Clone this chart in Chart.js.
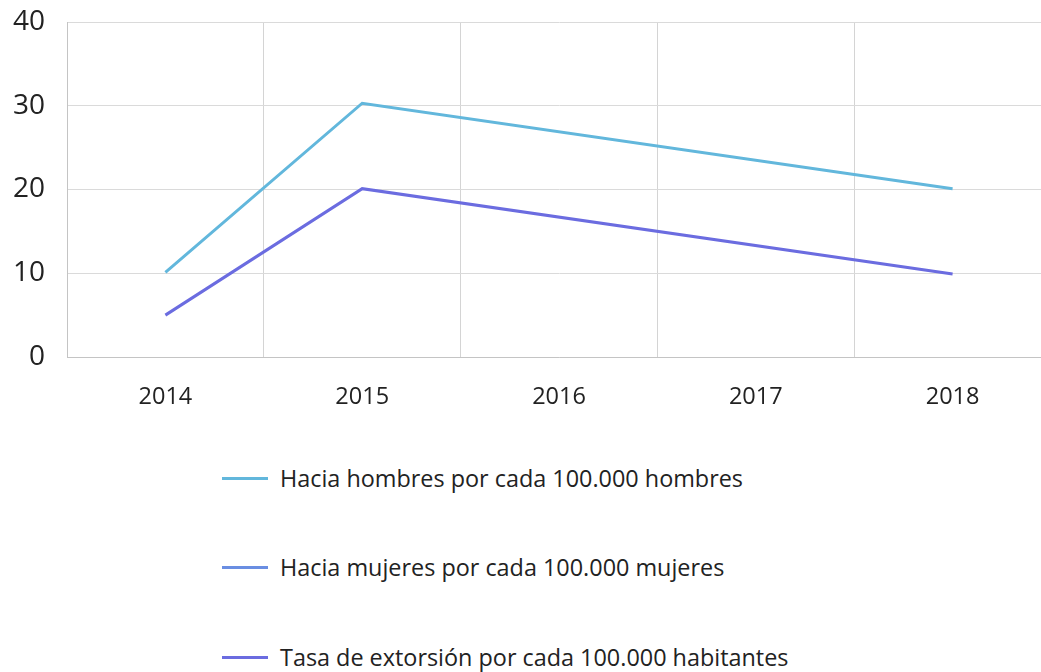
<!DOCTYPE html>
<html>
<head>
<meta charset="utf-8">
<script src="https://cdn.jsdelivr.net/npm/chart.js@4/dist/chart.umd.min.js"></script>
<style>
  html, body { margin: 0; padding: 0; background: #fff; overflow: hidden; width: 1041px; height: 672px; }
  #wrap { position: absolute; left: 0; top: 0; width: 1051px; height: 420px; }
  #legend { position: absolute; left: 222px; top: 0; font-family: "Open Sans", "Noto Sans", sans-serif; font-size: 23.4px; color: #222; }
  .item { position: absolute; left: 0; white-space: nowrap; display: flex; align-items: center; }
  .swatch { width: 46px; height: 3px; margin-right: 12px; }
</style>
</head>
<body>
<div id="wrap"><canvas id="c" width="1051" height="420"></canvas></div>
<div id="legend"></div>
<script>
const categories = ["2014", "2015", "2016", "2017", "2018"];
const hombres = [10.1, 30.3, null, null, 20.1];
const mujeres = [null, null, null, null, null];
const tasa = [5.0, 20.1, null, null, 9.9];
const seriesNames = [
  "Hacia hombres por cada 100.000 hombres",
  "Hacia mujeres por cada 100.000 mujeres",
  "Tasa de extorsión por cada 100.000 habitantes"
];
const yTicks = [0, 10, 20, 30, 40];
const colors = ["#62b7dc", "#6a8ee2", "#6b6ce0"];

const FONT = '"Open Sans", "Noto Sans", sans-serif';

const datasets = [hombres, mujeres, tasa].map((d, i) => ({
  label: seriesNames[i],
  data: d,
  borderColor: colors[i],
  backgroundColor: colors[i],
  borderWidth: 3,
  pointRadius: 0,
  pointHoverRadius: 0,
  spanGaps: true,
  tension: 0,
  fill: false
}));

new Chart(document.getElementById("c"), {
  type: "line",
  data: { labels: categories, datasets },
  options: {
    responsive: false,
    animation: false,
    layout: { padding: { top: 0, right: 0, left: 0, bottom: 0 } },
    plugins: { legend: { display: false }, tooltip: { enabled: false } },
    scales: {
      x: {
        offset: true,
        grid: { offset: true, color: "#d4d4d4", lineWidth: 1, drawTicks: false },
        border: { color: "#c4c4c4" },
        ticks: { font: { family: FONT, size: 23.5 }, color: "#222", padding: 26, maxRotation: 0 },
        afterFit: (s) => { s.height = 63; s.paddingLeft = 0; s.paddingRight = 0; }
      },
      y: {
        min: 0, max: 40,
        afterBuildTicks: (s) => { s.ticks = yTicks.map(v => ({ value: v })); },
        grid: { color: "#dadada", lineWidth: 1, drawTicks: false },
        border: { color: "#c4c4c4" },
        ticks: { font: { family: FONT, size: 28 }, color: "#222", padding: 22 },
        afterFit: (s) => { s.width = 67; s.paddingTop = 22; s.paddingBottom = 0; }
      }
    }
  }
});

const legend = document.getElementById("legend");
const centers = [478, 567, 657];
seriesNames.forEach((name, i) => {
  const it = document.createElement("div");
  it.className = "item";
  it.style.top = (centers[i] - 16) + "px";
  it.style.height = "32px";
  const sw = document.createElement("span");
  sw.className = "swatch";
  sw.style.background = colors[i];
  const tx = document.createElement("span");
  tx.textContent = name;
  it.appendChild(sw);
  it.appendChild(tx);
  legend.appendChild(it);
});
</script>
</body>
</html>
